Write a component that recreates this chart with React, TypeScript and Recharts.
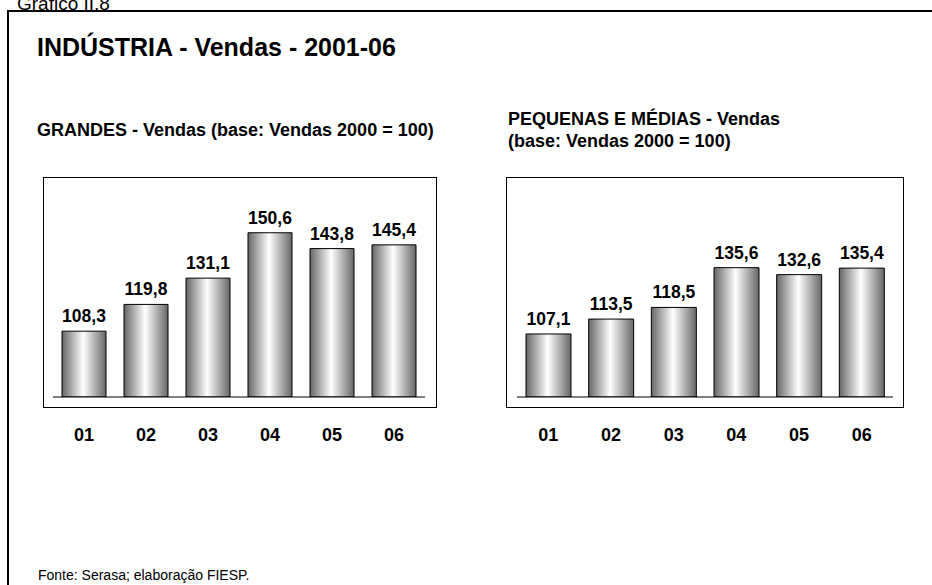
import React from 'react';
import { BarChart, Bar, XAxis, YAxis, LabelList } from 'recharts';

const years = ['01', '02', '03', '04', '05', '06'];
const grandes = [108.3, 119.8, 131.1, 150.6, 143.8, 145.4];
const pequenas = [107.1, 113.5, 118.5, 135.6, 132.6, 135.4];
const yDomain = [80, 175];

const FONT = '"Liberation Sans", Arial, sans-serif';

const fmt = (v: any) => Number(v).toFixed(1).replace('.', ',');

const Tick = (props: any) => {
  const { x, y, payload } = props;
  return (
    <text x={x} y={y} dy={42} textAnchor="middle" fontFamily={FONT} fontWeight="bold" fontSize={18} fill="#000">
      {payload.value}
    </text>
  );
};

function Panel({ data, id, width, mLeft, mRight, barSize }: any) {
  return (
    <BarChart
      width={width}
      height={470}
      data={data}
      margin={{ top: 176, right: mRight, bottom: 33, left: mLeft }}
    >
      <defs>
        <linearGradient id={id} x1="0" y1="0" x2="1" y2="0">
          <stop offset="0%" stopColor="#666666" />
          <stop offset="48%" stopColor="#ffffff" />
          <stop offset="100%" stopColor="#666666" />
        </linearGradient>
      </defs>
      <XAxis
        dataKey="year"
        height={40}
        tickLine={false}
        tickSize={0}
        axisLine={{ stroke: '#000', strokeWidth: 1 }}
        tick={<Tick />}
        interval={0}
      />
      <YAxis hide domain={yDomain} allowDataOverflow type="number" />
      <Bar dataKey="value" fill={`url(#${id})`} stroke="#000" strokeWidth={1} barSize={barSize} isAnimationActive={false}>
        <LabelList
          dataKey="value"
          position="top"
          offset={9}
          formatter={fmt}
          style={{ fontFamily: FONT, fontWeight: 'bold', fontSize: 17.5, fill: '#000' }}
        />
      </Bar>
    </BarChart>
  );
}

export default function App() {
  const leftData = years.map((y, i) => ({ year: y, value: grandes[i] }));
  const rightData = years.map((y, i) => ({ year: y, value: pequenas[i] }));
  const txt: React.CSSProperties = { position: 'absolute', fontFamily: FONT, color: '#000', whiteSpace: 'nowrap', margin: 0 };
  return (
    <div style={{ position: 'absolute', left: 0, top: 0, width: 932, height: 585, overflow: 'hidden', background: '#fff' }}>
      <div style={{ position: 'absolute', left: 7, top: 10, width: 960, height: 600, borderTop: '2px solid #000', borderLeft: '2px solid #000' }} />
      <div style={{ ...txt, left: 17, top: -6, fontSize: 19, lineHeight: '19px' }}>Gráfico II.8</div>
      <div style={{ ...txt, left: 37, top: 35, fontSize: 25, lineHeight: '25px', fontWeight: 'bold' }}>INDÚSTRIA - Vendas - 2001-06</div>
      <div style={{ ...txt, left: 37, top: 121, fontSize: 18, lineHeight: '18px', fontWeight: 'bold' }}>GRANDES - Vendas (base: Vendas 2000 = 100)</div>
      <div style={{ ...txt, left: 508, top: 108, fontSize: 18, lineHeight: '22px', fontWeight: 'bold' }}>
        PEQUENAS E MÉDIAS - Vendas<br />(base: Vendas 2000 = 100)
      </div>
      <div style={{ ...txt, left: 38, top: 568, fontSize: 14, lineHeight: '14px' }}>Fonte: Serasa; elaboração FIESP.</div>

      <div style={{ position: 'absolute', left: 43, top: 177, width: 392, height: 229, border: '1px solid #000' }} />
      <div style={{ position: 'absolute', left: 506, top: 177, width: 396, height: 229, border: '1px solid #000' }} />

      <div style={{ position: 'absolute', left: 0, top: 0 }}>
        <Panel data={leftData} id="gradL" width={470} mLeft={53} mRight={45} barSize={44} />
      </div>
      <div style={{ position: 'absolute', left: 470, top: 0 }}>
        <Panel data={rightData} id="gradR" width={462} mLeft={47} mRight={39} barSize={45} />
      </div>
    </div>
  );
}
